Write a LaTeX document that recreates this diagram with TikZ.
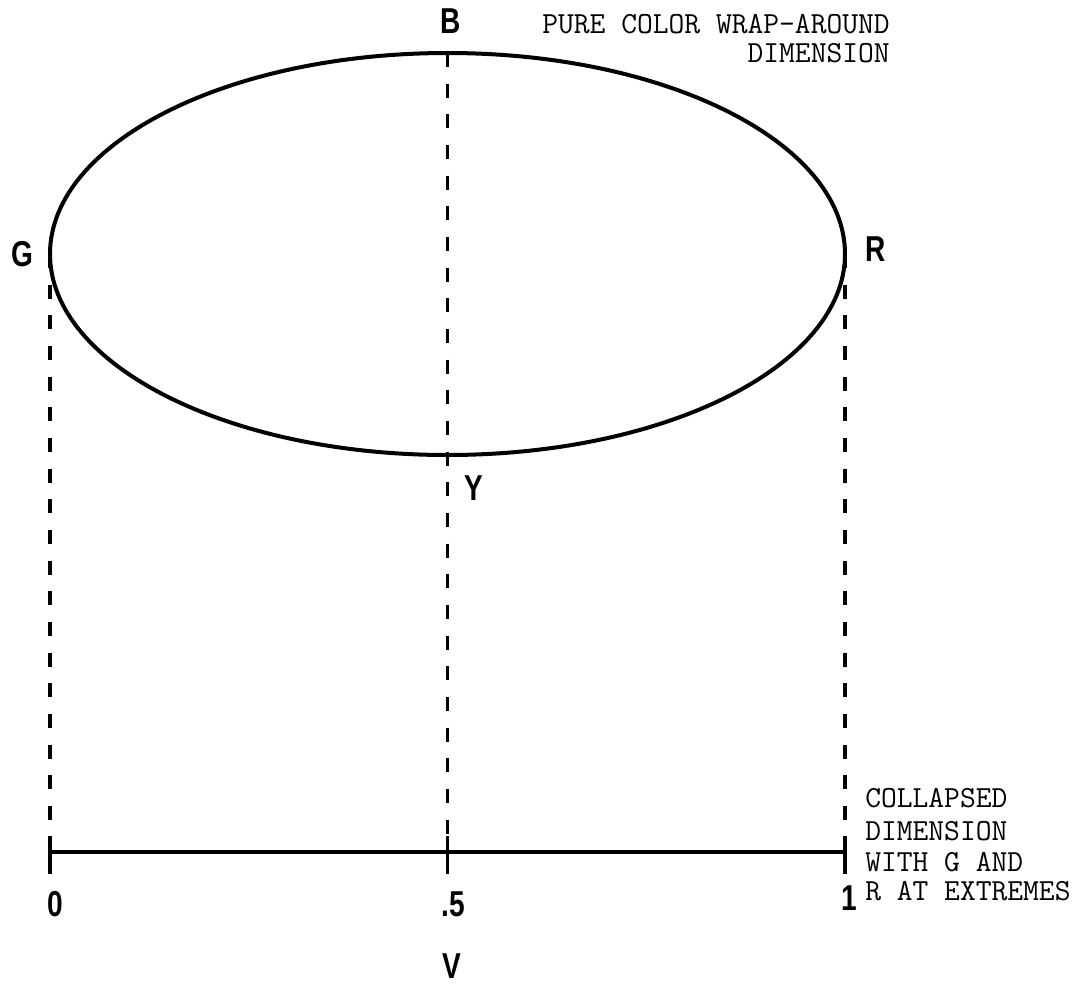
\documentclass[tikz,border=0pt]{standalone}
\usepackage{fontspec}
\newfontfamily\labfont[FakeStretch=0.78]{Liberation Sans}
\begin{document}
\begin{tikzpicture}[x=0.75pt,y=-0.75pt,
  curve/.style={line width=3pt},
  guide/.style={line width=2.6pt,dash pattern=on 10.5pt off 12.5pt},
  axisline/.style={line width=2.6pt},
  letter/.style={font=\labfont\bfseries\fontsize{27}{27}\selectfont,inner sep=0pt},
  note/.style={font=\ttfamily\fontsize{23}{25}\selectfont,inner sep=0pt}]
\useasboundingbox (0,0) rectangle (1090,986);
% key points
\coordinate (pG) at (50,254);
\coordinate (pB) at (447.5,53);
\coordinate (pR) at (845,254);
\coordinate (pY) at (447.5,455);
\coordinate (a0) at (50,852);
\coordinate (a5) at (447.5,852);
\coordinate (a1) at (845,852);
\coordinate (t0u) at (50,836);
\coordinate (t0d) at (50,874);
\coordinate (t5u) at (447.5,836);
\coordinate (t5d) at (447.5,874);
\coordinate (t1u) at (845,836);
\coordinate (t1d) at (845,874);
% ellipse
\draw[curve] (447.5,254) ellipse [x radius=397.5, y radius=201];
% dashed guides
\draw[guide] (pG) -- (t0u);
\draw[guide] (pB) -- (t5u);
\draw[guide] (pR) -- (t1u);
% axis
\draw[axisline] (a0) -- (a1);
\draw[axisline] (t0u) -- (t0d);
\draw[axisline] (t5u) -- (t5d);
\draw[axisline] (t1u) -- (t1d);
% letter labels
\node[letter] (lG) at (22,254) {G};
\node[letter] (lR) at (876,249) {R};
\node[letter] (lB) at (451,21) {B};
\node[letter] (lY) at (474,488) {Y};
\node[letter] (l0) at (55,904) {0};
\node[letter] (l5) at (453,904) {.5};
\node[letter] (l1) at (849,898) {1};
\node[letter] (lV) at (452,966) {V};
% notes
\node[note,anchor=base east] (n1) at (890,33) {PURE COLOR WRAP-AROUND};
\node[note,anchor=base east] (n2) at (890,62) {DIMENSION};
\node[note,anchor=base west] (c1) at (865,807) {COLLAPSED};
\node[note,anchor=base west] (c2) at (865,840) {DIMENSION};
\node[note,anchor=base west] (c3) at (865,871) {WITH G AND};
\node[note,anchor=base west] (c4) at (865,900) {R AT EXTREMES};
\end{tikzpicture}
\end{document}
